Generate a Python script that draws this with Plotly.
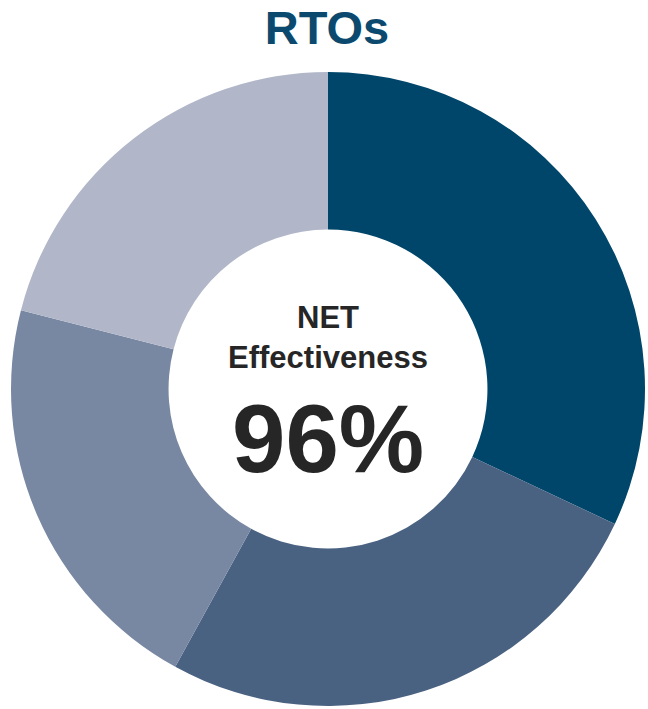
import plotly.graph_objects as go

# Share of responses per segment (percent), drawn clockwise from 12 o'clock
segments = ["Segment 1", "Segment 2", "Segment 3", "Segment 4"]
shares = [32, 26, 21, 21]
colors = ["#00466A", "#4A6282", "#7887A2", "#B1B7C9"]

chart_title = "RTOs"
center_label = ["NET", "Effectiveness"]
center_value = "96%"

W, H = 648, 709
M_L, M_R, M_T, M_B = 10, 2, 72, 3
plot_h = H - M_T - M_B


def py(pix):
    """Convert a pixel row inside the page to paper y."""
    return 1 - (pix - M_T) / plot_h


fig = go.Figure(
    go.Pie(
        labels=segments,
        values=shares,
        hole=0.503,
        sort=False,
        direction="clockwise",
        rotation=0,
        marker=dict(colors=colors, line=dict(width=0)),
        textinfo="none",
        hoverinfo="label+percent",
        showlegend=False,
    )
)

text_color = "#262626"
font_family = "Liberation Sans, Arial, sans-serif"

fig.add_annotation(
    text=f"<b>{center_label[0]}</b>", x=0.5, y=py(317), xref="paper", yref="paper",
    xanchor="center", yanchor="middle", showarrow=False,
    font=dict(family=font_family, size=31, color=text_color),
)
fig.add_annotation(
    text=f"<b>{center_label[1]}</b>", x=0.5, y=py(357), xref="paper", yref="paper",
    xanchor="center", yanchor="middle", showarrow=False,
    font=dict(family=font_family, size=31, color=text_color),
)
fig.add_annotation(
    text=f"<b>{center_value}</b>", x=0.5, y=py(438), xref="paper", yref="paper",
    xanchor="center", yanchor="middle", showarrow=False,
    font=dict(family=font_family, size=96, color=text_color),
)

fig.update_layout(
    width=W,
    height=H,
    margin=dict(l=M_L, r=M_R, t=M_T, b=M_B, pad=0),
    paper_bgcolor="white",
    plot_bgcolor="white",
    title=dict(
        text=f"<b>{chart_title}</b>",
        x=327 / W,
        xanchor="center",
        y=1 - 27.5 / H,
        yanchor="middle",
        font=dict(family=font_family, size=47, color="#0B4A6E"),
    ),
)

fig.write_html("out.html")
